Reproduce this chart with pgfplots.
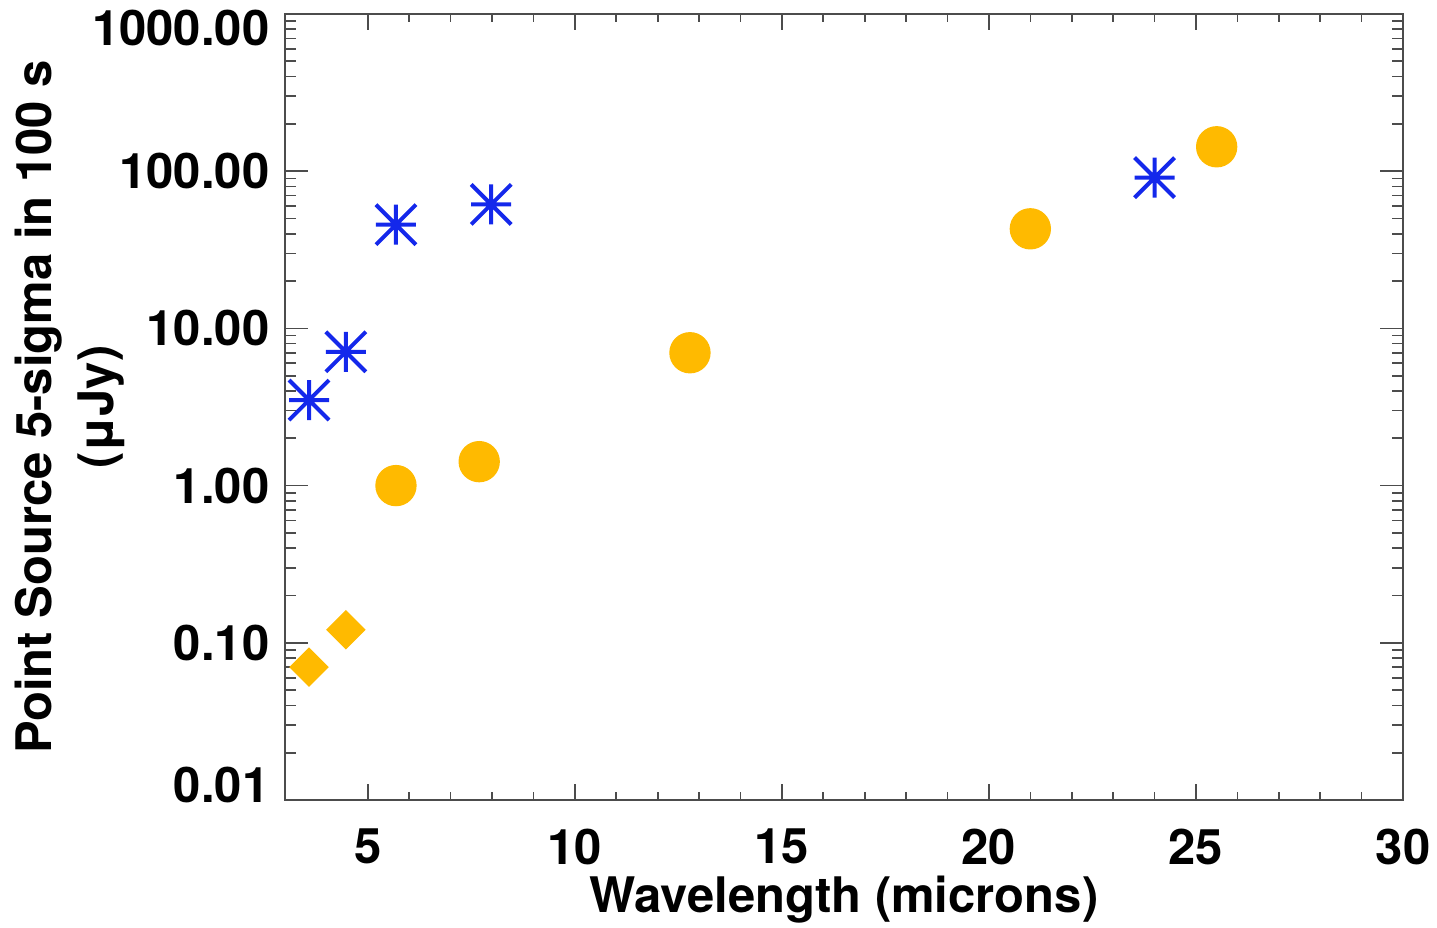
\documentclass[border=0pt]{standalone}
\usepackage{fontspec}
\setmainfont{TeX Gyre Heros}
\usepackage{pgfplots}
\pgfplotsset{compat=1.18}
\definecolor{starblue}{RGB}{20,40,235}
\definecolor{gold}{RGB}{255,186,0}
\pgfdeclareplotmark{ast8}{%
  \pgfpathmoveto{\pgfqpoint{-\pgfplotmarksize}{0pt}}\pgfpathlineto{\pgfqpoint{\pgfplotmarksize}{0pt}}%
  \pgfpathmoveto{\pgfqpoint{0pt}{-\pgfplotmarksize}}\pgfpathlineto{\pgfqpoint{0pt}{\pgfplotmarksize}}%
  \pgfpathmoveto{\pgfqpoint{-\pgfplotmarksize}{-\pgfplotmarksize}}\pgfpathlineto{\pgfqpoint{\pgfplotmarksize}{\pgfplotmarksize}}%
  \pgfpathmoveto{\pgfqpoint{-\pgfplotmarksize}{\pgfplotmarksize}}\pgfpathlineto{\pgfqpoint{\pgfplotmarksize}{-\pgfplotmarksize}}%
  \pgfusepathqstroke}
\begin{document}
\begin{tikzpicture}
\begin{axis}[
  name=ax,
  scale only axis,
  width=335.4pt, height=235.8pt,
  xmin=3, xmax=30,
  ymode=log, ymin=0.01, ymax=1000,
  xtick={5,10,15,20,25,30},
  xticklabels={5,10,15,20,25,30},
  minor x tick num=4,
  ytick={0.01,0.1,1,10,100,1000},
  yticklabels={\raisebox{4.5pt}[\height][\depth]{0.01},0.10,1.00,10.00,100.00,\raisebox{-4.2pt}[\height][\depth]{1000.00}},
  tick align=inside,
  axis line style={black!70, line width=0.5pt},
  every tick/.style={black!70, line width=0.5pt},
  major tick length=6.9pt, minor tick length=3.3pt,
  x tick style={/pgfplots/major tick length=4.8pt, /pgfplots/minor tick length=2.4pt},
  ticklabel style={font=\fontsize{14.7}{17}\selectfont\bfseries},
  x tick label style={inner sep=0pt, anchor=north, yshift=-8.4pt},
  y tick label style={inner sep=0pt, anchor=east, xshift=-4.5pt},
  xlabel={Wavelength (microns)},
  xlabel style={font=\fontsize{14.7}{17}\selectfont\bfseries, inner sep=0pt, at={(axis description cs:0.5,-0.1425)}, anchor=base},
  ylabel={Point Source 5-sigma in 100 s\\(μJy)},
  ylabel style={font=\fontsize{14.7}{18.6}\selectfont\bfseries, align=center, inner sep=0pt, rotate=0, at={(axis description cs:-0.143,0.5)}, anchor=south},
  clip=false,
]
\addplot[only marks, mark=ast8, mark size=6pt, draw=starblue, line width=1.2pt] coordinates {
  (3.58,3.5) (4.47,7.1) (5.68,45.7) (7.98,61.5) (24.0,91)
};
\addplot[only marks, mark=*, mark size=6pt, draw=gold, fill=gold] coordinates {
  (5.68,1.0) (7.69,1.42) (12.78,7.0) (21.0,43) (25.5,143)
};
\addplot[only marks, mark=square*, mark size=4.0pt, mark options={rotate=45}, draw=gold, fill=gold] coordinates {
  (3.58,0.070) (4.47,0.121)
};
\end{axis}
\pgfresetboundingbox
\path[use as bounding box] ([shift={(-85.5pt,-38.4pt)}]ax.south west) rectangle ([shift={(10.2pt,4.2pt)}]ax.north east);
\end{tikzpicture}
\end{document}
